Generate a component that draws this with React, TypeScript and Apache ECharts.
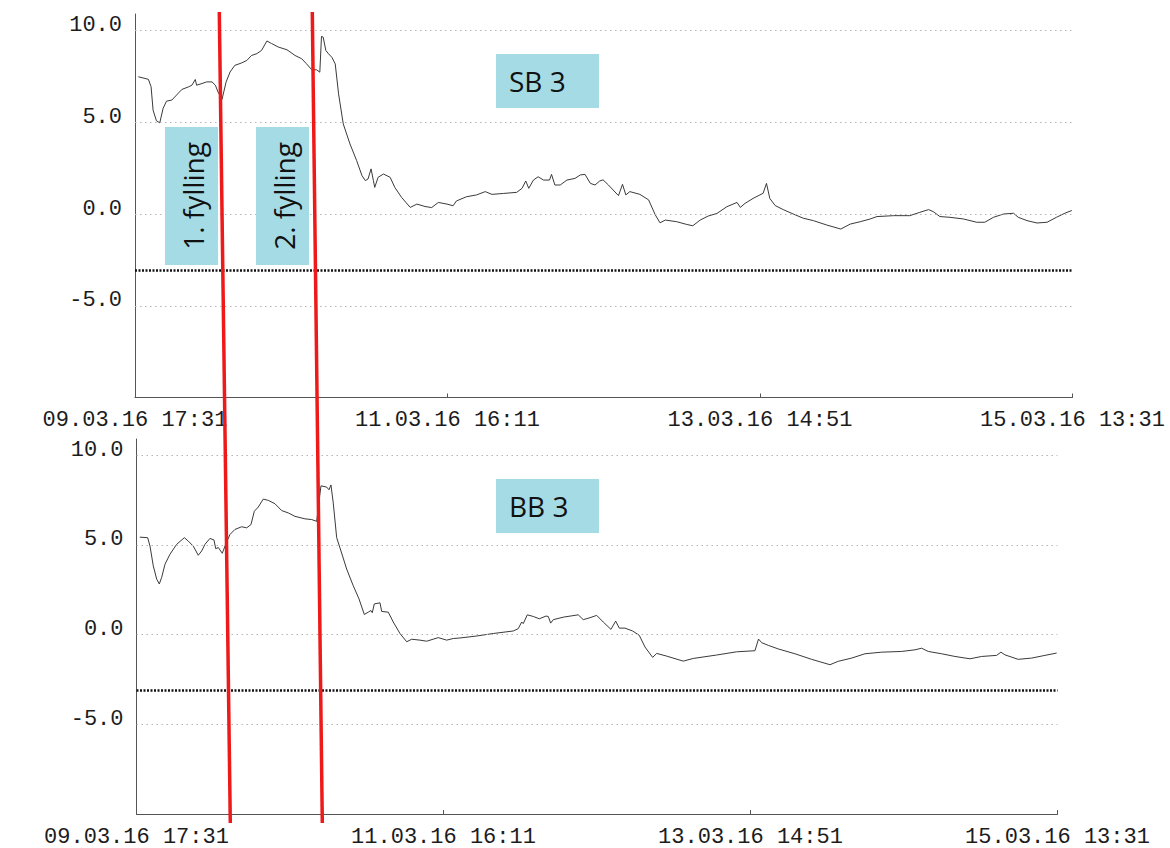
import React, { useEffect, useRef } from "react";
import * as echarts from "echarts";

// ---- data ----
const xTickLabels = ["09.03.16 17:31", "11.03.16 16:11", "13.03.16 14:51", "15.03.16 13:31"];
const xStepMinutes = 2800; // 46 h 40 min between labelled ticks
const xMaxMinutes = 8400;

const gridLevels = [10, 5, 0, -5];
const sbThreshold = -3.05;
const bbThreshold = -3.1;
const panelTitles = ["SB 3", "BB 3"];
const fillLabels = ["1. fylling", "2. fylling"];

// hours after 09.03.16 17:31
const sbHours = [
  0.5, 2.0, 2.4, 2.7, 3.2, 3.7, 4.2, 4.7, 5.5, 6.2, 7.0, 8.0, 8.5, 9.0, 9.2, 10.0, 10.7, 11.5, 12.0, 12.4,
  13.0, 13.6, 14.2, 14.9, 15.9, 16.7, 17.4, 18.2, 18.9, 19.7, 20.4, 21.4, 22.7, 23.9, 24.9, 25.6, 26.4, 27.1, 27.6, 27.85,
  28.1, 28.5, 28.9, 29.4, 29.9, 30.4, 31.1, 32.1, 33.1, 33.9, 34.4, 34.8, 35.25, 35.6, 35.8, 36.3, 37.1, 38.1, 38.8, 39.8,
  41.1, 42.1, 43.3, 44.3, 45.3, 46.6, 47.5, 48.0, 49.5, 51.0, 52.3, 53.3, 55.0, 57.0, 57.8, 58.35, 58.8, 59.5, 60.2, 61.0,
  61.9, 62.2, 62.7, 63.5, 64.5, 65.7, 66.5, 67.2, 68.0, 68.7, 69.4, 69.9, 70.7, 71.4, 72.2, 72.8, 73.3, 73.9, 75.4, 76.7,
  77.7, 78.4, 79.2, 80.9, 82.4, 83.3, 84.4, 85.6, 86.9, 88.4, 89.9, 90.4, 91.1, 92.3, 93.8, 94.3, 94.8, 95.6, 96.8, 98.3,
  99.8, 101.3, 103.3, 105.4, 106.8, 108.3, 109.8, 110.8, 113.3, 115.7, 117.2, 118.5, 119.2, 120.2, 121.7, 123.7, 125.7, 126.9, 128.2, 129.7,
  131.2, 131.9, 133.2, 134.7, 136.2, 137.6, 138.9, 139.9,
];
const sbValues = [
  7.48, 7.34, 6.94, 5.66, 5.08, 4.97, 5.76, 6.15, 6.21, 6.48, 6.79, 6.93, 7.02, 7.33, 7.02, 7.11, 7.2, 7.2, 7.02, 6.65,
  6.25, 7.19, 7.74, 8.1, 8.23, 8.37, 8.64, 8.74, 8.92, 9.43, 9.29, 9.1, 8.95, 8.64, 8.46, 8.19, 7.86, 7.86, 7.73, 9.68,
  9.64, 8.91, 8.73, 8.54, 8.18, 6.55, 4.91, 3.82, 2.91, 2.09, 1.82, 1.91, 2.46, 1.82, 1.45, 2.0, 2.18, 2.0, 1.45, 0.91,
  0.36, 0.54, 0.41, 0.35, 0.63, 0.54, 0.45, 0.71, 0.94, 1.04, 1.22, 1.07, 1.12, 1.18, 1.4, 1.8, 1.4, 1.85, 2.03, 1.85,
  1.85, 2.16, 1.58, 1.58, 1.85, 1.94, 2.13, 2.16, 1.67, 1.58, 1.8, 1.86, 1.58, 1.31, 1.0, 1.62, 1.04, 1.22, 1.07, 0.77,
  -0.05, -0.48, -0.33, -0.42, -0.57, -0.64, -0.33, -0.11, 0.03, 0.4, 0.63, 0.36, 0.58, 0.85, 1.13, 1.67, 0.85, 0.46, 0.24, 0.0,
  -0.23, -0.36, -0.6, -0.82, -0.55, -0.42, -0.27, -0.14, -0.09, -0.09, 0.09, 0.24, 0.13, -0.14, -0.18, -0.27, -0.45, -0.45, -0.18, 0.0,
  0.04, -0.18, -0.36, -0.49, -0.45, -0.18, 0.05, 0.19,
];

const bbHours = [
  0.5, 1.7, 2.05, 2.55, 3.07, 3.47, 3.83, 4.33, 5.09, 6.11, 7.27, 7.87, 8.63, 9.39, 9.91, 10.41, 11.17, 11.78, 12.04, 12.44,
  13.04, 13.45, 14.21, 14.97, 15.99, 16.75, 17.4, 17.91, 18.51, 19.27, 20.03, 21.05, 22.07, 23.07, 24.09, 25.61, 26.63, 27.39, 28.04, 28.91,
  29.26, 29.56, 29.91, 30.43, 31.08, 31.95, 32.95, 33.82, 34.63, 35.23, 35.64, 35.84, 36.15, 37.01, 37.27, 38.27, 39.03, 40.05, 41.07, 41.83,
  43.09, 44.11, 45.87, 47.15, 48.15, 49.17, 51.71, 54.23, 57.27, 58.03, 58.55, 58.79, 59.4, 60.31, 61.23, 62.24, 62.59, 62.96, 63.35, 64.87,
  67.15, 67.91, 68.93, 69.95, 70.95, 72.12, 72.84, 73.39, 74.25, 75.42, 76.42, 77.29, 78.46, 79.07, 80.59, 83.11, 84.63, 88.19, 91.23, 94.01,
  94.55, 95.03, 96.03, 97.55, 100.09, 102.63, 105.41, 106.67, 108.71, 110.73, 113.27, 116.31, 118.33, 119.35, 120.35, 122.39, 124.41, 126.69, 128.47, 130.75,
  131.4, 132.01, 134.03, 136.07, 138.09, 139.87,
];
const bbValues = [
  5.43, 5.4, 4.93, 3.83, 3.09, 2.82, 3.19, 3.92, 4.48, 5.03, 5.4, 5.21, 4.93, 4.42, 4.66, 5.03, 5.36, 5.27, 4.79, 4.85,
  4.53, 4.93, 5.58, 5.86, 6.01, 5.95, 6.13, 6.87, 7.11, 7.55, 7.48, 7.29, 6.91, 6.78, 6.59, 6.45, 6.41, 6.31, 8.29, 8.22,
  8.07, 8.34, 7.33, 5.4, 4.66, 3.65, 2.72, 1.99, 1.12, 1.25, 1.34, 1.22, 1.71, 1.77, 1.29, 1.25, 0.7, 0.06, -0.4, -0.26,
  -0.31, -0.37, -0.17, -0.31, -0.22, -0.19, -0.08, 0.06, 0.2, 0.33, 0.7, 0.61, 1.1, 1.01, 0.88, 1.03, 1.01, 0.64, 0.83, 0.97,
  1.1, 0.83, 0.94, 1.07, 0.7, 0.29, 0.75, 0.36, 0.36, 0.2, -0.04, -0.69, -1.27, -1.05, -1.2, -1.48, -1.33, -1.14, -0.96, -0.9,
  -0.25, -0.45, -0.6, -0.8, -1.07, -1.38, -1.68, -1.49, -1.31, -1.07, -0.98, -0.94, -0.85, -0.76, -0.94, -1.07, -1.22, -1.35, -1.22, -1.16,
  -0.98, -1.13, -1.38, -1.31, -1.16, -1.03,
];

// ---- helpers ----
const toPairs = (hours: number[], vals: number[]) => hours.map((h, i) => [h * 60, vals[i]]);
const MONO = '"Liberation Mono", "DejaVu Sans Mono", monospace';
const SANS = '"Open Sans", "Noto Sans", sans-serif';
const AXIS_COLOR = "#555";
const TEXT_COLOR = "#1c1c1c";
const BOX_COLOR = "#a5dbe5";
const RED = "#ee1a1a";

const makeX = (gridIndex: number) => ({
  type: "value",
  gridIndex,
  min: 0,
  max: xMaxMinutes,
  interval: xStepMinutes,
  axisLine: { show: true, onZero: false, lineStyle: { color: AXIS_COLOR, width: 1 } },
  axisTick: { show: true, inside: true, length: 4, lineStyle: { color: AXIS_COLOR } },
  axisLabel: {
    show: true,
    margin: 12,
    showMinLabel: true,
    showMaxLabel: true,
    fontFamily: MONO,
    fontSize: 22,
    color: TEXT_COLOR,
    formatter: (v: number) => xTickLabels[Math.round(v / xStepMinutes)] ?? "",
  },
  splitLine: { show: false },
});

const makeY = (gridIndex: number) => ({
  type: "value",
  gridIndex,
  min: -10,
  max: 10.9,
  interval: 5,
  axisLine: { show: true, onZero: false, lineStyle: { color: AXIS_COLOR, width: 1 } },
  axisTick: { show: false },
  axisLabel: {
    margin: 13,
    showMinLabel: false,
    showMaxLabel: false,
    fontFamily: MONO,
    fontSize: 22,
    color: TEXT_COLOR,
    verticalAlign: "bottom",
    lineHeight: 10,
    formatter: (v: number) => (v <= -10 || v > 10 ? "" : v.toFixed(1)),
  },
  splitLine: { show: false },
});

const makeSeries = (idx: number, hours: number[], vals: number[], threshold: number) => ({
  type: "line",
  xAxisIndex: idx,
  yAxisIndex: idx,
  data: toPairs(hours, vals),
  showSymbol: false,
  symbol: "none",
  lineStyle: { color: "#3a3a3a", width: 1 },
  emphasis: { disabled: true },
  markLine: {
    silent: true,
    symbol: "none",
    label: { show: false },
    emphasis: { disabled: true },
    data: [
      ...gridLevels.map((y) => ({ yAxis: y, lineStyle: { type: [1.5, 3.5], color: "#b4b4b4", width: 1 } })),
      { yAxis: threshold, lineStyle: { type: [2, 1.5], color: "#111", width: 2.5 } },
    ],
  },
});

const boxText = (
  rect: { x: number; y: number; width: number; height: number },
  text: string,
  tx: number,
  ty: number,
  vertical: boolean
) => [
  { type: "rect", z: 100, shape: rect, style: { fill: BOX_COLOR } },
  {
    type: "text",
    z: 101,
    x: tx,
    y: ty,
    rotation: vertical ? Math.PI / 2 : 0,
    style: {
      text,
      fontFamily: SANS,
      fontSize: 28,
      fill: "#111",
      align: vertical ? "center" : "left",
      verticalAlign: "middle",
    },
  },
];

export default function App() {
  const ref = useRef<HTMLDivElement>(null);

  useEffect(() => {
    if (!ref.current) return;
    const chart = echarts.init(ref.current, undefined, { renderer: "svg" });
    chart.setOption({
      animation: false,
      backgroundColor: "#ffffff",
      grid: [
        { left: 135, top: 14, width: 937.5, height: 383.5, containLabel: false },
        { left: 136.5, top: 439, width: 921, height: 378, containLabel: false },
      ],
      xAxis: [makeX(0), makeX(1)],
      yAxis: [makeY(0), makeY(1)],
      series: [makeSeries(0, sbHours, sbValues, sbThreshold), makeSeries(1, bbHours, bbValues, bbThreshold)],
      graphic: [
        ...boxText({ x: 496, y: 54, width: 103, height: 54 }, panelTitles[0], 509, 81, false),
        ...boxText({ x: 496, y: 479, width: 103, height: 54 }, panelTitles[1], 509, 506, false),
        ...boxText({ x: 165, y: 127, width: 53, height: 138 }, fillLabels[0], 193, 196, true),
        ...boxText({ x: 256, y: 127, width: 53, height: 138 }, fillLabels[1], 284, 196, true),
        { type: "line", z: 120, shape: { x1: 219.3, y1: 12, x2: 230.3, y2: 823 }, style: { stroke: RED, lineWidth: 3.5 } },
        { type: "line", z: 120, shape: { x1: 312.3, y1: 12, x2: 322.3, y2: 823 }, style: { stroke: RED, lineWidth: 3.5 } },
      ],
    });
    return () => chart.dispose();
  }, []);

  return (
    <div
      ref={ref}
      style={{ position: "fixed", left: 0, top: 0, width: 1170, height: 848, background: "#fff" }}
    />
  );
}
